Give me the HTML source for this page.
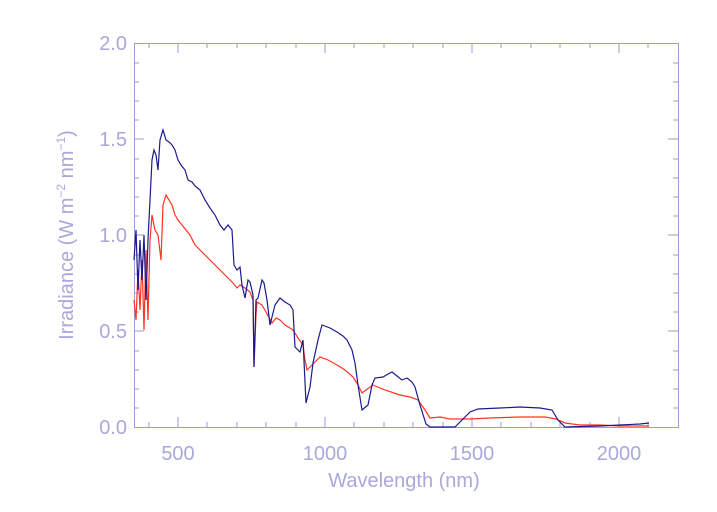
<!DOCTYPE html>
<html><head><style>body{margin:0;background:#fff}svg{display:block}text{font-family:"Liberation Sans",sans-serif;fill:#a8a8dc}</style></head><body>
<svg width="717" height="512" viewBox="0 0 717 512">
<g stroke="#9a9ad8" stroke-width="1" fill="none">
<rect x="134.5" y="43.5" width="544" height="384"/>
<path d="M149 427v-5M178 427v-10M207 427v-5M237 427v-5M266 427v-5M296 427v-5M325 427v-10M354 427v-5M384 427v-5M413 427v-5M443 427v-5M472 427v-10M501 427v-5M531 427v-5M560 427v-5M590 427v-5M619 427v-10M648 427v-5
M149 43v5M178 43v10M207 43v5M237 43v5M266 43v5M296 43v5M325 43v10M354 43v5M384 43v5M413 43v5M443 43v5M472 43v10M501 43v5M531 43v5M560 43v5M590 43v5M619 43v10M648 43v5"/>
<path d="M134 408h5M134 389h5M134 370h5M134 351h5M134 331h10M134 312h5M134 293h5M134 274h5M134 255h5M134 235h10M134 216h5M134 197h5M134 178h5M134 159h5M134 139h10M134 120h5M134 101h5M134 82h5M134 63h5
M678 408h-5M678 389h-5M678 370h-5M678 351h-5M678 331h-10M678 312h-5M678 293h-5M678 274h-5M678 255h-5M678 235h-10M678 216h-5M678 197h-5M678 178h-5M678 159h-5M678 139h-10M678 120h-5M678 101h-5M678 82h-5M678 63h-5"/>
</g>
<g font-size="20" text-anchor="end">
<text x="127" y="434">0.0</text><text x="127" y="338">0.5</text><text x="127" y="242">1.0</text><text x="127" y="146">1.5</text><text x="127" y="50">2.0</text>
</g>
<g font-size="20" text-anchor="middle">
<text x="178" y="460">500</text><text x="325" y="460">1000</text><text x="472" y="460">1500</text><text x="619" y="460">2000</text>
<text x="404" y="487">Wavelength (nm)</text>
<text transform="translate(73,235) rotate(-90)">Irradiance (W m<tspan font-size="12" dy="-8">−2</tspan><tspan dy="8"> nm</tspan><tspan font-size="12" dy="-8">−1</tspan><tspan dy="8">)</tspan></text>
</g>
<polyline fill="none" stroke="#ff3322" stroke-width="1.2" points="134,300 136,320 138,270 140,310 142,260 144,330 146,250 148,320 150,240 152,215 155,230 158,235 161,260 163,205 166,195 169,200 172,205 175,215 178,220 182,225 186,230 190,235 195,245 200,250 205,255 210,260 215,265 220,270 225,275 230,280 233,283 237,288 240,285 245,288 250,292 253,300 254,367 256,315 257,302 262,305 266,312 272,323 276,318 280,320 285,325 290,328 293,330 298,338 303,345 305,360 307,370 312,365 320,357 328,360 337,365 345,370 353,377 358,385 362,393 366,390 373,385 385,390 400,395 410,397 418,400 425,410 430,418 440,417 450,419 470,419 490,418 520,417 545,417 556,419 565,423 580,425 600,425 620,426 640,426 649,426"/>
<polyline fill="none" stroke="#1a1a8e" stroke-width="1.2" points="134,260 136,230 138,290 140,240 142,280 144,235 146,300 148,240 150,200 152,160 154,150 156,155 158,170 160,140 163,130 166,140 169,142 172,145 175,150 178,160 181,165 185,170 188,180 192,182 195,186 200,190 205,200 210,208 215,215 220,225 224,230 228,225 232,230 234,265 237,270 240,267 242,285 245,298 248,280 250,282 253,295 254,367 256,300 258,298 262,280 264,283 267,300 270,325 275,305 280,298 285,302 290,305 293,310 295,347 300,352 303,340 306,403 310,387 313,363 318,340 322,325 330,328 337,332 343,336 347,340 352,350 355,363 358,385 362,410 368,405 372,385 375,378 383,377 388,374 392,372 397,376 402,380 407,378 412,382 415,387 420,405 426,424 430,427 455,427 462,420 470,412 478,409 500,408 520,407 540,408 552,410 558,420 565,427 600,426 620,425 640,424 649,423"/>
</svg>
</body></html>
